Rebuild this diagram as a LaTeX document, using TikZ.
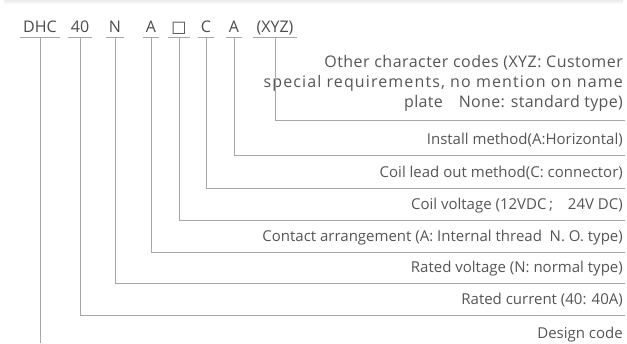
\documentclass[tikz,border=0pt]{standalone}
\usepackage{fontspec}
\setmainfont{Open Sans}
\newfontfamily\symfont{DejaVu Sans}
\usepackage{tikz}
\usetikzlibrary{calc}
\definecolor{txtgray}{HTML}{555555}
\definecolor{linegray}{HTML}{A6A6A6}

\begin{document}
\begin{tikzpicture}[x=1pt,y=-1pt]
\tikzstyle{code}=[anchor=base,text=txtgray!90!black,inner xsep=3pt,inner ysep=0pt,text depth=5pt,font=\fontsize{16}{16}\selectfont]
\tikzstyle{desc}=[anchor=base east,text=txtgray,inner sep=0pt,font=\fontsize{15}{20}\selectfont]
\tikzstyle{lead}=[draw=linegray,line width=0.8pt]
\useasboundingbox (0,0) rectangle (627,343);
\fill[black!7] (4,0) rectangle (623,1.5);
\fill[black!3] (4,1.5) rectangle (623,3.5);
\node[code] (C_1) at (40,32)  {DHC};
\node[code] (C_2) at (80,32)  {40};
\node[code] (C_3) at (115,32) {N};
\node[code] (C_4) at (151,32) {A};
\node[code] (C_5) at (179,32) {\symfont □};
\node[code] (C_6) at (206,32) {C};
\node[code] (C_7) at (234,32) {A};
\node[code] (C_8) at (275,32) {(XYZ)};
\foreach \i in {1,...,8}
  \draw[lead] (C_\i.south west) -- (C_\i.south east);
\coordinate (E_1) at (40,343);
\coordinate (E_2) at (625,315);
\coordinate (E_3) at (625,283);
\coordinate (E_4) at (625,252);
\coordinate (E_5) at (625,220);
\coordinate (E_6) at (625,188);
\coordinate (E_7) at (625,155);
\coordinate (E_8) at (625,120);
\node[desc] (D_1) at (623,338.5) {Design code};
\node[desc] (D_2) at ([shift={(-2,-11)}]E_2) {Rated current (40: 40A)};
\node[desc] (D_3) at ([shift={(-2,-11)}]E_3) {Rated voltage (N: normal type)};
\node[desc] (D_4) at ([shift={(-2,-11)}]E_4) {Contact arrangement (A: Internal thread\ \ N. O. type)};
\node[desc] (D_5) at ([shift={(-2,-11)}]E_5) {Coil voltage (12VDC\,;\quad 24V DC)};
\node[desc] (D_6) at ([shift={(-2,-11)}]E_6) {Coil lead out method(C: connector)};
\node[desc] (D_7) at ([shift={(-2,-11)}]E_7) {Install method(A:Horizontal)};
\node[desc,align=right,font=\fontsize{16}{20}\selectfont] (D_8) at ([shift={(-2,-13)}]E_8) {{\addfontfeatures{LetterSpace=3}Other character codes (XYZ: Customer}\\{\addfontfeatures{LetterSpace=7}special requirements, no mention on name}\\{\addfontfeatures{LetterSpace=2}plate\quad None: standard type)}};
\draw[lead] (C_1.south) -- (E_1);
\foreach \i in {2,...,8}
  \draw[lead] (C_\i.south) |- (E_\i);
\end{tikzpicture}
\end{document}
